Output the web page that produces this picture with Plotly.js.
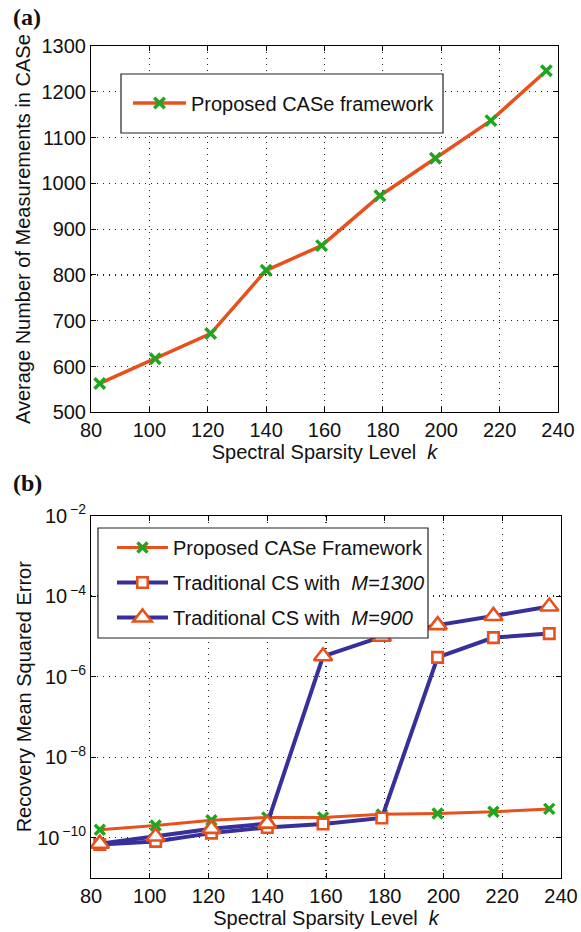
<!DOCTYPE html>
<html>
<head>
<meta charset="utf-8">
<script src="https://cdn.plot.ly/plotly-3.0.1.min.js"></script>
<style>html,body{margin:0;padding:0;background:#fff}</style>
</head>
<body>
<div id="chart" style="width:581px;height:932px"></div>
<script>
// Spectral sparsity levels k tested in both panels
const sparsityLevels = [83, 102, 121, 140, 159, 179, 198, 217, 236];

// (a) average number of measurements used by CASe
const avgMeasurements = [563, 617, 672, 810, 864, 973, 1055, 1137, 1246];

// (b) recovery mean squared error
const mseProposed = [1.58e-10, 2.0e-10, 2.7e-10, 3.2e-10, 3.2e-10, 3.8e-10, 4.0e-10, 4.4e-10, 5.2e-10];
const mseCS1300  = [6.8e-11, 8.1e-11, 1.3e-10, 1.8e-10, 2.2e-10, 3.1e-10, 3.0e-6, 9.3e-6, 1.17e-5];
const mseCS900   = [7.1e-11, 1.07e-10, 1.66e-10, 2.24e-10, 3.2e-6, 9.8e-6, 1.9e-5, 3.2e-5, 5.5e-5];

// Tick positions and labels
const xTickVals = [80, 100, 120, 140, 160, 180, 200, 220, 240];
const yTickValsTop = [500, 600, 700, 800, 900, 1000, 1100, 1200, 1300];
const logTickVals = [1e-10, 1e-8, 1e-6, 1e-4, 1e-2];
const logTickText = ['10<sup>\u2009\u221210</sup>', '10<sup>\u2009\u22128</sup>', '10<sup>\u2009\u22126</sup>', '10<sup>\u2009\u22124</sup>', '10<sup>\u2009\u22122</sup>'];

const W = 581, H = 932;
const fx = v => v / W;        // pixel -> paper x
const fy = v => 1 - v / H;    // pixel -> paper y

const ORANGE = '#e8501c';
const GREEN = '#1fa51f';
const BLUE = '#38309a';
const FONT = 'Liberation Sans, Arial, Helvetica, sans-serif';

const traces = [
  {
    x: sparsityLevels, y: avgMeasurements, xaxis: 'x', yaxis: 'y',
    name: 'Proposed CASe framework', legend: 'legend',
    mode: 'lines+markers',
    line: {color: ORANGE, width: 3.5},
    marker: {symbol: 'x-thin', size: 10.5, color: GREEN, line: {color: GREEN, width: 3.5}}
  },
  {
    x: sparsityLevels, y: mseProposed, xaxis: 'x2', yaxis: 'y2',
    name: 'Proposed CASe Framework', legend: 'legend2', legendgroup: 'g1',
    mode: 'lines+markers',
    line: {color: ORANGE, width: 3},
    marker: {symbol: 'x-thin', size: 10, color: GREEN, line: {color: GREEN, width: 3.5}}
  },
  {
    x: sparsityLevels, y: mseCS1300, xaxis: 'x2', yaxis: 'y2',
    name: 'Traditional CS with&nbsp; <i>M=1300</i>', legend: 'legend2', legendgroup: 'g2',
    mode: 'lines+markers',
    line: {color: BLUE, width: 4},
    marker: {symbol: 'square', size: 10.5, color: '#ffffff', line: {color: ORANGE, width: 2.6}}
  },
  {
    x: sparsityLevels, y: mseCS900, xaxis: 'x2', yaxis: 'y2',
    name: 'Traditional CS with&nbsp; <i>M=900</i>', legend: 'legend2', legendgroup: 'g3',
    mode: 'lines+markers',
    line: {color: BLUE, width: 4},
    marker: {symbol: 'triangle-up', size: 16, color: '#ffffff', line: {color: ORANGE, width: 2.6}}
  }
];

const axisBase = {
  showline: true, linecolor: '#000', linewidth: 1, mirror: 'ticks',
  ticks: 'inside', ticklen: 5, tickcolor: '#000', tickwidth: 1,
  showgrid: true, gridcolor: '#222', griddash: '1px,5px', gridwidth: 1.2,
  zeroline: false, tickfont: {family: FONT, size: 20, color: '#111'},
  automargin: false
};

const xTitle = {text: 'Spectral Sparsity Level&nbsp; <i>k</i>', standoff: 0,
                font: {family: FONT, size: 20, color: '#111'}};

const layout = {
  width: W, height: H,
  margin: {l: 0, r: 0, t: 0, b: 0},
  paper_bgcolor: '#fff', plot_bgcolor: '#fff',
  font: {family: FONT, size: 20, color: '#111'},
  showlegend: true,
  xaxis: Object.assign({}, axisBase, {
    domain: [fx(91), fx(558)], range: [80, 240], anchor: 'y',
    tickvals: xTickVals, title: xTitle
  }),
  yaxis: Object.assign({}, axisBase, {
    domain: [fy(412.3), fy(46)], range: [500, 1300], anchor: 'x',
    tickvals: yTickValsTop,
    title: {text: 'Average Number of Measurements in CASe', standoff: 5,
            font: {family: FONT, size: 20, color: '#111'}}
  }),
  xaxis2: Object.assign({}, axisBase, {
    domain: [fx(91), fx(561)], range: [80, 240], anchor: 'y2',
    tickvals: xTickVals, title: xTitle
  }),
  yaxis2: Object.assign({}, axisBase, {
    domain: [fy(878), fy(515.5)], type: 'log', range: [-11, -2], anchor: 'x2',
    tickvals: logTickVals, ticktext: logTickText,
    title: {text: 'Recovery Mean Squared Error', standoff: 0,
            font: {family: FONT, size: 20, color: '#111'}}
  }),
  legend: {
    x: fx(128), xanchor: 'left', y: fy(103), yanchor: 'middle',
    bgcolor: 'rgba(0,0,0,0)', borderwidth: 0, itemwidth: 53,
    font: {family: FONT, size: 20, color: '#111'}
  },
  legend2: {
    x: fx(112), xanchor: 'left', y: fy(582.5), yanchor: 'middle',
    bgcolor: 'rgba(0,0,0,0)', borderwidth: 0, itemwidth: 51,
    traceorder: 'grouped', tracegroupgap: 6,
    font: {family: FONT, size: 20, color: '#111'}
  },
  // legend frames (opaque, drawn over the data)
  shapes: [
    {type: 'rect', xref: 'paper', yref: 'paper', layer: 'above',
     x0: fx(121), x1: fx(443), y0: fy(133), y1: fy(74),
     line: {color: '#222', width: 1.2}, fillcolor: '#fff'},
    {type: 'rect', xref: 'paper', yref: 'paper', layer: 'above',
     x0: fx(98), x1: fx(428), y0: fy(638), y1: fy(528),
     line: {color: '#222', width: 1.2}, fillcolor: '#fff'}
  ],
  annotations: [
    {text: '(a)', xref: 'paper', yref: 'paper', x: fx(11), y: fy(17), xanchor: 'left', yanchor: 'middle',
     showarrow: false, font: {family: 'Liberation Serif, Times New Roman, serif', size: 24, weight: 'bold', color: '#111'}},
    {text: '(b)', xref: 'paper', yref: 'paper', x: fx(11), y: fy(483), xanchor: 'left', yanchor: 'middle',
     showarrow: false, font: {family: 'Liberation Serif, Times New Roman, serif', size: 24, weight: 'bold', color: '#111'}}
  ]
};

Plotly.newPlot('chart', traces, layout, {staticPlot: true, displayModeBar: false});
</script>
</body>
</html>
